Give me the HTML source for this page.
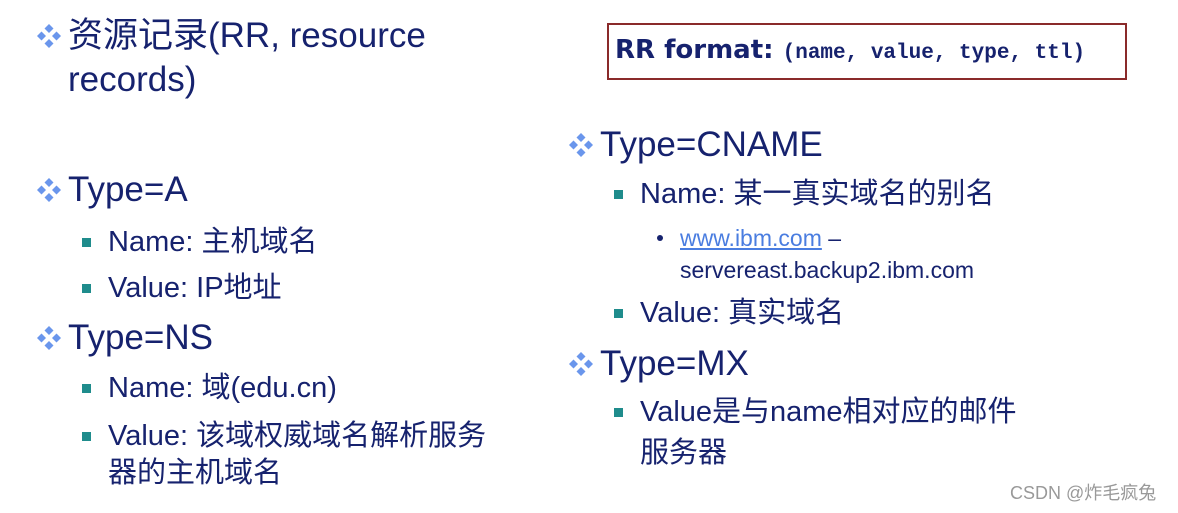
<!DOCTYPE html>
<html><head><meta charset="utf-8"><style>
body{margin:0;width:1178px;height:512px;background:#fff;overflow:hidden;position:relative;font-family:"Liberation Sans","Noto Sans CJK SC",sans-serif;color:#16226e}
.t{position:absolute;white-space:nowrap;line-height:40px;height:40px}
.h{font-size:35px}
.s{font-size:29px}
.d{position:absolute;width:26px;height:26px}
.sq{position:absolute;width:9px;height:9px;background:#1f8c8c}
</style></head><body>
<svg width="0" height="0" style="position:absolute"><defs><g id="dm" fill="#6a96ec"><path d="M13 1l4.5 4.5-4.5 4.5-4.5-4.5z"/><path d="M13 16l4.5 4.5-4.5 4.5-4.5-4.5z"/><path d="M5.5 8.5l4.5 4.5-4.5 4.5-4.5-4.5z"/><path d="M20.5 8.5l4.5 4.5-4.5 4.5-4.5-4.5z"/></g></defs></svg>

<svg class="d" style="left:36px;top:23px"><use href="#dm"/></svg>
<div class="t h" style="left:68px;top:16px">资源记录(RR, resource</div>
<div class="t h" style="left:68px;top:60px">records)</div>

<svg class="d" style="left:36px;top:177px"><use href="#dm"/></svg>
<div class="t h" style="left:68px;top:170px">Type=A</div>
<div class="sq" style="left:82px;top:238px"></div>
<div class="t s" style="left:108px;top:222px">Name: 主机域名</div>
<div class="sq" style="left:82px;top:284px"></div>
<div class="t s" style="left:108px;top:268px">Value: IP地址</div>

<svg class="d" style="left:36px;top:325px"><use href="#dm"/></svg>
<div class="t h" style="left:68px;top:318px">Type=NS</div>
<div class="sq" style="left:82px;top:384px"></div>
<div class="t s" style="left:108px;top:368px">Name: 域(edu.cn)</div>
<div class="sq" style="left:82px;top:432px"></div>
<div class="t s" style="left:108px;top:416px">Value: 该域权威域名解析服务</div>
<div class="t s" style="left:108px;top:453px">器的主机域名</div>

<div style="position:absolute;left:607px;top:23px;width:520px;height:57px;border:2px solid #8a2a2a;box-sizing:border-box"></div>
<div class="t" style="left:615px;top:30px;font-family:'DejaVu Sans',sans-serif;font-weight:bold;font-size:26px;color:#16226e">RR format: <span style="font-family:'Liberation Mono',monospace;font-size:21px">(name, value, type, ttl)</span></div>

<svg class="d" style="left:568px;top:132px"><use href="#dm"/></svg>
<div class="t h" style="left:600px;top:125px">Type=CNAME</div>
<div class="sq" style="left:614px;top:190px"></div>
<div class="t s" style="left:640px;top:174px">Name: 某一真实域名的别名</div>
<div style="position:absolute;left:657px;top:235px;width:6px;height:6px;border-radius:3px;background:#16226e"></div>
<div class="t" style="left:680px;top:218px;font-size:23px"><span style="color:#4a7de0;text-decoration:underline">www.ibm.com</span> –</div>
<div class="t" style="left:680px;top:250px;font-size:23px">servereast.backup2.ibm.com</div>
<div class="sq" style="left:614px;top:309px"></div>
<div class="t s" style="left:640px;top:293px">Value: 真实域名</div>

<svg class="d" style="left:568px;top:351px"><use href="#dm"/></svg>
<div class="t h" style="left:600px;top:344px">Type=MX</div>
<div class="sq" style="left:614px;top:408px"></div>
<div class="t s" style="left:640px;top:392px">Value是与name相对应的邮件</div>
<div class="t s" style="left:640px;top:433px">服务器</div>

<div class="t" style="left:1010px;top:473px;font-size:18px;color:#999">CSDN @炸毛疯兔</div>
</body></html>
